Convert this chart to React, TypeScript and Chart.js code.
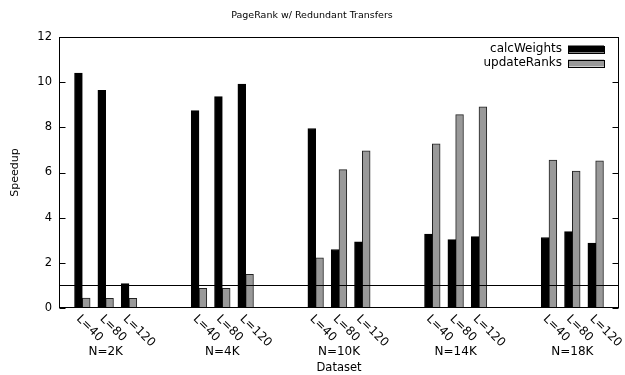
import { useEffect, useRef } from "react";
import { Chart, registerables } from "chart.js";

Chart.register(...registerables);

// Dataset groups (graph sizes) and the per-group iteration settings
const groups = ["N=2K", "N=4K", "N=10K", "N=14K", "N=18K"];
const lengths = ["L=40", "L=80", "L=120"];

// Speedup per (group, length), listed group by group
const calcWeights = [10.4, 9.64, 1.08, 8.74, 9.36, 9.92, 7.95, 2.59, 2.93, 3.27, 3.03, 3.16, 3.12, 3.38, 2.87];
const updateRanks = [0.44, 0.43, 0.43, 0.87, 0.87, 1.49, 2.22, 6.13, 6.96, 7.27, 8.56, 8.91, 6.55, 6.06, 6.52];

const yTicks = [0, 2, 4, 6, 8, 10, 12];
const baseline = 1;

const seriesNames = ["calcWeights", "updateRanks"];
const seriesFill = ["#000000", "#999999"];

const FONT = "'DejaVu Sans', sans-serif";
const SLOTS_PER_GROUP = lengths.length + 2;

// position of each bar pair on the linear x scale (two empty slots between groups)
const slotOf = (i: number) => Math.floor(i / lengths.length) * SLOTS_PER_GROUP + (i % lengths.length);

const decorations = {
  id: "gnuplotDecor",
  afterDatasetsDraw(chart: any) {
    const { ctx, chartArea: a, scales } = chart;
    const x = scales.x;
    const y = scales.y;
    const L = Math.round(a.left) + 0.5;
    const R = Math.round(a.right) - 0.5;
    const T = Math.round(a.top) + 0.5;
    const B = Math.round(a.bottom) - 0.5;
    ctx.save();
    ctx.strokeStyle = "#000";
    ctx.lineWidth = 1;

    // reference line at speedup = 1
    const yb = Math.round(y.getPixelForValue(baseline)) + 0.5;
    ctx.beginPath();
    ctx.moveTo(L, yb);
    ctx.lineTo(R, yb);
    ctx.stroke();

    // frame
    ctx.strokeRect(L, T, R - L, B - T);

    // inward y ticks, mirrored on the right
    ctx.beginPath();
    for (const v of yTicks) {
      const py = Math.round(y.getPixelForValue(v)) + 0.5;
      ctx.moveTo(L, py);
      ctx.lineTo(L + 6, py);
      ctx.moveTo(R, py);
      ctx.lineTo(R - 6, py);
    }
    ctx.stroke();

    ctx.fillStyle = "#000";
    ctx.textBaseline = "middle";

    // title
    ctx.font = `9.5px ${FONT}`;
    ctx.textAlign = "center";
    ctx.fillText("PageRank w/ Redundant Transfers", 312, 16);

    // y axis title
    ctx.font = `11px ${FONT}`;
    ctx.save();
    ctx.translate(15, (a.top + a.bottom) / 2);
    ctx.rotate(-Math.PI / 2);
    ctx.fillText("Speedup", 0, 0);
    ctx.restore();

    // rotated length labels under each bar pair
    ctx.font = `12px ${FONT}`;
    ctx.textAlign = "left";
    for (let i = 0; i < calcWeights.length; i++) {
      const px = x.getPixelForValue(slotOf(i));
      ctx.save();
      ctx.translate(px - 4, a.bottom + 9);
      ctx.rotate(Math.PI / 4);
      ctx.fillText(lengths[i % lengths.length], 0, 0);
      ctx.restore();
    }

    // group labels
    ctx.textAlign = "center";
    groups.forEach((g, gi) => {
      const px = x.getPixelForValue(gi * SLOTS_PER_GROUP + 1);
      ctx.fillText(g, px, 352);
    });

    // x axis title
    ctx.font = `11.5px ${FONT}`;
    ctx.fillText("Dataset", (a.left + a.right) / 2, 368);

    // legend, text right-aligned with the sample box on its right
    ctx.font = `12px ${FONT}`;
    ctx.textAlign = "right";
    seriesNames.forEach((name, k) => {
      const cy = a.top + 12 + k * 14;
      ctx.fillStyle = "#000";
      ctx.fillText(name, a.right - 57, cy);
      ctx.fillStyle = seriesFill[k];
      ctx.fillRect(a.right - 51, cy - 3.5, 36, 7);
      ctx.strokeRect(Math.round(a.right - 51) + 0.5, Math.round(cy - 3.5) + 0.5, 36, 7);
    });
    ctx.restore();
  },
};

export default function App() {
  const ref = useRef<HTMLCanvasElement>(null);

  useEffect(() => {
    const canvas = ref.current;
    if (!canvas) return;
    const chart = new Chart(canvas, {
      type: "bar",
      data: {
        datasets: [
          {
            label: seriesNames[0],
            data: calcWeights.map((v, i) => ({ x: slotOf(i), y: v })),
            backgroundColor: seriesFill[0],
            borderColor: "#000",
            borderWidth: 1,
            barThickness: 7.8,
          },
          {
            label: seriesNames[1],
            data: updateRanks.map((v, i) => ({ x: slotOf(i), y: v })),
            backgroundColor: seriesFill[1],
            borderColor: "#222",
            borderWidth: 1,
            barThickness: 7.8,
          },
        ],
      },
      options: {
        animation: false,
        responsive: false,
        layout: { padding: { top: 37, right: 6, left: 0, bottom: 0 } },
        plugins: {
          legend: { display: false },
          title: { display: false },
          tooltip: { enabled: false },
        },
        scales: {
          x: {
            type: "linear",
            min: -1,
            max: (groups.length - 1) * SLOTS_PER_GROUP + lengths.length,
            offset: false,
            grid: { display: false },
            border: { display: false },
            ticks: { display: false, stepSize: 1 },
            afterFit: (s: any) => {
              s.height = 67;
            },
          },
          y: {
            min: 0,
            max: 12,
            grid: { display: false, drawTicks: false },
            border: { display: false },
            ticks: {
              stepSize: 2,
              padding: 7,
              color: "#000",
              font: { family: FONT, size: 11.5 },
            },
            afterFit: (s: any) => {
              s.width = 59;
            },
          },
        },
      } as any,
      plugins: [decorations],
    });
    return () => chart.destroy();
  }, []);

  return (
    <div style={{ position: "fixed", left: 0, top: 0, width: 625, height: 375, background: "#fff" }}>
      <canvas ref={ref} width={625} height={375} style={{ display: "block" }} />
    </div>
  );
}
